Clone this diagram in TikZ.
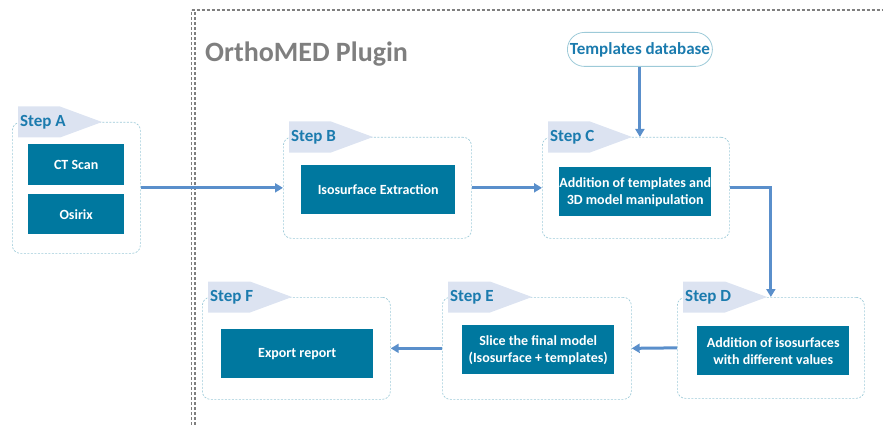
\documentclass[tikz,border=0pt]{standalone}
\usepackage{fontspec}
\setmainfont{Carlito}
\usetikzlibrary{arrows.meta}
\definecolor{boxfill}{HTML}{00789F}
\definecolor{steptxt}{HTML}{1B7BAE}
\definecolor{tabfill}{HTML}{DCE3F1}
\definecolor{contline}{HTML}{9DCAD8}
\definecolor{arrowc}{HTML}{5A8FCB}
\definecolor{plugingray}{HTML}{7F7F7F}
\tikzset{
  container/.style={draw=contline, dash pattern=on 2pt off 1.5pt, rounded corners=8pt, line width=0.7pt, anchor=north west, inner sep=0pt},
  innerbox/.style={fill=boxfill, text=white, font=\bfseries\fontsize{14}{17}\selectfont, align=center, inner sep=0pt, anchor=north west},
  tablabel/.style={text=steptxt, font=\bfseries\fontsize{17}{20}\selectfont, anchor=west, inner sep=2pt},
  arr/.style={draw=arrowc, line width=3pt, -{Triangle[length=8pt,width=9pt]}},
  plugline/.style={draw=plugingray, dash pattern=on 3pt off 2pt, line width=1.6pt}
}
\newcommand{\steptab}[3]{%
  \fill[tabfill] (#1+6,#2-15.5) -- (#1+48,#2-15.5) -- (#1+90,#2) -- (#1+48,#2+15.5) -- (#1+6,#2+15.5) -- cycle;
  \node[tablabel] at (#1+6,#2) {#3};}
\begin{document}
\begin{tikzpicture}[x=1pt,y=-1pt]
\useasboundingbox (0,0) rectangle (883,425);
% plugin boundary
\draw[plugline] (191.5,425) -- (191.5,10);
\draw[plugline] (195,425) -- (195,12);
\draw[plugline] (191.5,10) -- (883,10);
\node[text=plugingray, font=\bfseries\fontsize{28}{33}\selectfont, anchor=west, inner sep=0pt] (title) at (205,54) {OrthoMED Plugin};
% containers
\node[container, minimum width=128pt, minimum height=131pt] (A) at (12,122) {};
\node[container, minimum width=188pt, minimum height=101pt] (B) at (283,137) {};
\node[container, minimum width=187pt, minimum height=101pt] (C) at (542,137) {};
\node[container, minimum width=187pt, minimum height=101pt] (D) at (677,297) {};
\node[container, minimum width=189pt, minimum height=102pt] (E) at (442,297) {};
\node[container, minimum width=188pt, minimum height=102pt] (F) at (202,297) {};
% tabs
\steptab{12}{122}{Step A}
\steptab{283}{137}{Step B}
\steptab{542}{137}{Step C}
\steptab{677}{297}{Step D}
\steptab{442}{297}{Step E}
\steptab{202}{297}{Step F}
% inner boxes
\node[innerbox, minimum width=96pt, minimum height=41pt] (ct) at (28,144) {CT Scan};
\node[innerbox, minimum width=96pt, minimum height=40pt] (osi) at (28,194) {Osirix};
\node[innerbox, minimum width=154pt, minimum height=49pt] (iso) at (301,165) {Isosurface Extraction};
\node[innerbox, minimum width=152pt, minimum height=49pt] (add) at (559,167) {Addition of templates and\\3D model manipulation};
\node[innerbox, minimum width=152pt, minimum height=49pt] (adiso) at (697,326) {Addition of isosurfaces\\with different values};
\node[innerbox, minimum width=152pt, minimum height=49pt] (slice) at (462,325) {Slice the final model\\(Isosurface + templates)};
\node[innerbox, minimum width=152pt, minimum height=49pt] (exp) at (221,329) {Export report};
% templates database
\node[draw=contline, line width=0.8pt, rounded corners=17pt, minimum width=145pt, minimum height=34pt, anchor=north west, inner sep=0pt, text=steptxt, font=\bfseries\fontsize{17}{20}\selectfont] (db) at (567,32) {Templates database};
% arrows
\draw[arr] (A.east) -- (B.west);
\draw[arr] (B.east) -- (C.west);
\draw[arr] (db.south) -- (db.south |- C.north);
\draw[arr] (C.east) -| (D.north);
\draw[arr] (D.west) -- (E.east);
\draw[arr] (E.west) -- (F.east);
\end{tikzpicture}
\end{document}
